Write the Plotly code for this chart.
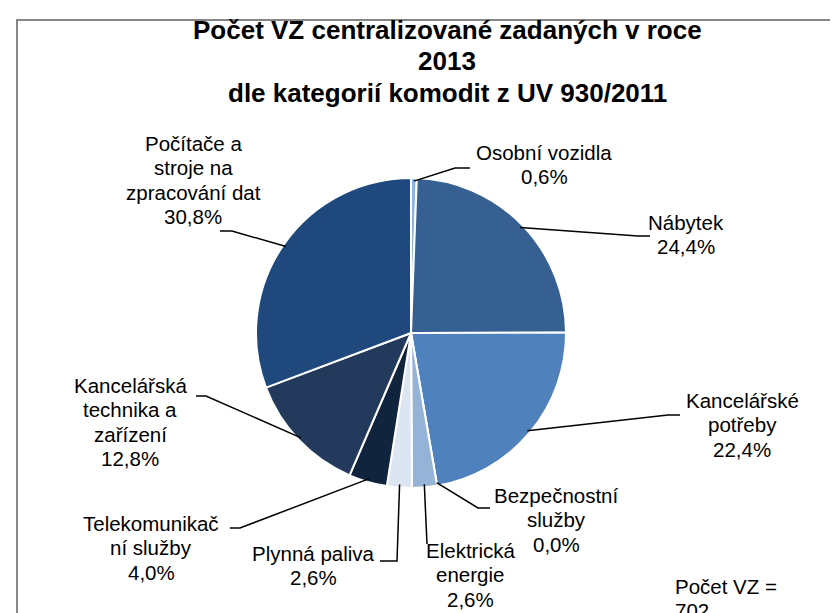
import math
import plotly.graph_objects as go

# ---- data ----
categories = [
    "Osobní vozidla",
    "Nábytek",
    "Kancelářské potřeby",
    "Bezpečnostní služby",
    "Elektrická energie",
    "Plynná paliva",
    "Telekomunikační služby",
    "Kancelářská technika a zařízení",
    "Počítače a stroje na zpracování dat",
]
label_lines = [
    ["Osobní vozidla"],
    ["Nábytek"],
    ["Kancelářské", "potřeby"],
    ["Bezpečnostní", "služby"],
    ["Elektrická", "energie"],
    ["Plynná paliva"],
    ["Telekomunikač", "ní služby"],
    ["Kancelářská", "technika a", "zařízení"],
    ["Počítače a", "stroje na", "zpracování dat"],
]
shares = [0.6, 24.4, 22.4, 0.0, 2.6, 2.6, 4.0, 12.8, 30.8]
total_count = 702
title_lines = ["Počet VZ centralizované zadaných v roce", "2013",
               "dle kategorií komodit z UV 930/2011"]

colors = ["#8EB4E3", "#376092", "#4F81BD", "#C6D9F1", "#95B3D7",
          "#DCE6F2", "#10243E", "#243A5C", "#1F497D"]

# ---- layout helpers (pixels) ----
W, H = 838, 613
CX, CY, R = 403, 325, 155
FONT = "Liberation Sans, Arial"
LABEL_SIZE = 20.5
LINE_H = 24.5
DY = -8  # line-box centre vs visual text centre


def px(x):
    return x / W


def py(y):
    return 1 - y / H


# label first-line centre positions, leader-line anchor + elbow
label_pos = [(536, 152), (678, 222), (734, 400), (548, 495), (462, 550),
             (305, 553), (143, 523), (122, 385), (185, 143)]
anchors = [(462, 160), (642, 228), (672, 407), (482, 500), (419, 536),
           (372, 553), (222, 520), (188, 388), (212, 223)]
elbows = [(447, 160), (630, 228), (660, 407), (470, 500), (419, 536),
          (389, 553), (232, 520), (198, 388), (224, 223)]

fig = go.Figure()
fig.add_trace(go.Pie(
    labels=categories,
    values=shares,
    sort=False,
    direction="clockwise",
    rotation=0,
    textinfo="none",
    hoverinfo="label+value",
    marker=dict(colors=colors, line=dict(color="white", width=2)),
    showlegend=False,
    domain=dict(x=[px(CX - R), px(CX + R)], y=[py(CY + R), py(CY - R)]),
))

total = sum(shares)
shapes = []
annotations = []


def add_line(x, y, text, size, xanchor="center", bold=False):
    annotations.append(dict(
        x=px(x), y=py(y + DY), xref="paper", yref="paper",
        text=f"<b>{text}</b>" if bold else text, showarrow=False,
        xanchor=xanchor, yanchor="middle", align="center",
        font=dict(size=size, color="black", family=FONT),
    ))


cum = 0.0
for i, v in enumerate(shares):
    mid = (cum + v / 2) / total
    cum += v
    th = 2 * math.pi * mid
    tx = CX + 0.98 * R * math.sin(th)
    ty = CY - 0.98 * R * math.cos(th)
    ex, ey = elbows[i]
    ax_, ay_ = anchors[i]
    path = f"M {px(tx)},{py(ty)} L {px(ex)},{py(ey)} L {px(ax_)},{py(ay_)}"
    shapes.append(dict(type="path", xref="paper", yref="paper", path=path,
                       line=dict(color="black", width=1.5), layer="above"))
    pct = f"{v:.1f}".replace(".", ",") + "%"
    lx, ly = label_pos[i]
    for k, t in enumerate(label_lines[i] + [pct]):
        add_line(lx, ly + k * LINE_H, t, LABEL_SIZE)

# chart border
shapes.append(dict(type="rect", xref="paper", yref="paper",
                   x0=px(9), y0=py(12), x1=px(900), y1=py(700),
                   line=dict(color="#868686", width=2), layer="below"))

# title
for k, t in enumerate(title_lines):
    add_line(439, 30 + k * 31.5, t, 26, bold=True)

# count note
for k, t in enumerate(["Počet VZ =", str(total_count)]):
    add_line(665, 586 + k * LINE_H, t, LABEL_SIZE, xanchor="left")

fig.update_layout(
    width=W, height=H,
    margin=dict(l=0, r=0, t=0, b=0),
    paper_bgcolor="white",
    plot_bgcolor="white",
    shapes=shapes,
    annotations=annotations,
)

fig.write_html("out.html")
